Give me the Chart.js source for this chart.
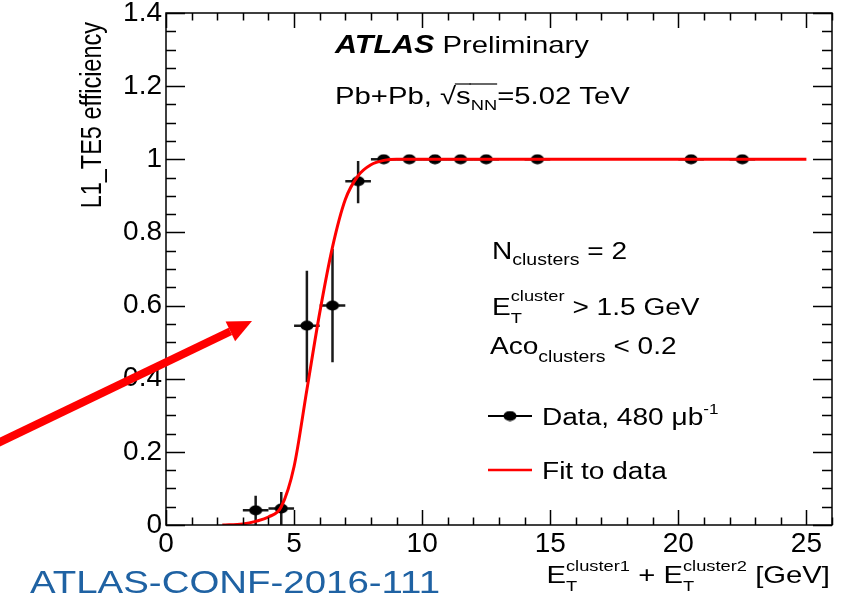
<!DOCTYPE html>
<html>
<head>
<meta charset="utf-8">
<script src="https://cdn.jsdelivr.net/npm/chart.js@4.4.1/dist/chart.umd.min.js"></script>
<style>
    html, body { margin: 0; padding: 0; background: #fff; }
    #effChart { display: block; }
</style>
</head>
<body>
<canvas id="effChart" width="848" height="599"></canvas>
<script>
// efficiency points
const binCentres   = [3.5, 4.5, 5.5, 6.5, 7.5, 8.5, 9.5, 10.5, 11.5, 12.5, 14.5, 20.5, 22.5];
const efficiency   = [0.04, 0.045, 0.545, 0.60, 0.94, 1, 1, 1, 1, 1, 1, 1, 1];
const binHalfWidth = [0.5, 0.5, 0.5, 0.5, 0.5, 0.5, 0.5, 0.5, 0.5, 0.5, 0.5, 0.5, 0.5];
const errUp        = [0.04, 0.045, 0.15, 0.155, 0.055, 0, 0, 0, 0, 0, 0, 0, 0];
const errDown      = [0.04, 0.045, 0.155, 0.155, 0.06, 0, 0, 0, 0, 0, 0, 0, 0];

// fit curve, sampled by eye
const fitX = [2.2, 3.0, 3.5, 4.0, 4.5, 5.0, 5.5, 6.0, 6.5, 7.0, 7.5, 8.0, 8.5, 9.0, 10.0, 25.0];
const fitY = [0, 0.003, 0.01, 0.022, 0.05, 0.16, 0.37, 0.58, 0.76, 0.89, 0.955, 0.985, 0.997, 1, 1, 1];

const xTicks = [0, 5, 10, 15, 20, 25];
const yTicks = [0, 0.2, 0.4, 0.6, 0.8, 1, 1.2, 1.4];
const xMinorStep = 1;
const yMinorStep = 0.05;

const FONT = '"Liberation Sans", Arial, Helvetica, sans-serif';
// the source picture is a bit wider than tall, text gets the same stretch
const STRETCH = 1.22;

function fnt(size, style) {
    return (style || '') + ' ' + size + 'px ' + FONT;
}

// filled ellipse used as marker
function dotImage() {
    const c = document.createElement('canvas');
    c.width = 14; c.height = 11;
    const g = c.getContext('2d');
    g.fillStyle = '#000';
    g.beginPath();
    g.ellipse(7, 5.5, 6.5, 5, 0, 0, Math.PI * 2);
    g.fill();
    return c;
}
const dot = dotImage();

// draws a run of text pieces; a piece is {t} or {sup, sub} stacked at the same x
function richText(ctx, x, y, parts, align, sx) {
    sx = sx || STRETCH;
    const widthOf = p => {
        if (p.sup !== undefined) {
            ctx.font = fnt(p.size);
            return Math.max(ctx.measureText(p.sup).width, ctx.measureText(p.sub).width);
        }
        ctx.font = fnt(p.size, p.style);
        return ctx.measureText(p.t).width;
    };
    const total = parts.reduce((s, p) => s + widthOf(p), 0);
    ctx.save();
    ctx.translate(x, y);
    ctx.scale(sx, 1);
    let cx = align === 'right' ? -total : 0;
    ctx.textAlign = 'left';
    ctx.textBaseline = 'alphabetic';
    parts.forEach(p => {
        const w = widthOf(p);
        if (p.sup !== undefined) {
            ctx.font = fnt(p.size);
            ctx.fillText(p.sup, cx, p.supDy);
            ctx.fillText(p.sub, cx, p.subDy);
        } else {
            ctx.font = fnt(p.size, p.style);
            ctx.fillText(p.t, cx, p.dy || 0);
        }
        if (p.over !== undefined) {
            ctx.lineWidth = 1.2;
            ctx.strokeStyle = ctx.fillStyle;
            ctx.beginPath();
            ctx.moveTo(cx - 1, p.over);
            ctx.lineTo(cx + w, p.over);
            ctx.stroke();
        }
        cx += w;
    });
    ctx.restore();
}

const errorBars = {
    id: 'errorBars',
    beforeDatasetsDraw(chart) {
        const { ctx, chartArea, scales: { x, y } } = chart;
        ctx.save();
        ctx.beginPath();
        ctx.rect(chartArea.left, chartArea.top, chartArea.width, chartArea.height);
        ctx.clip();
        ctx.strokeStyle = '#1a1a1a';
        ctx.lineWidth = 2.5;
        binCentres.forEach((c, i) => {
            const px = x.getPixelForValue(c);
            const py = y.getPixelForValue(efficiency[i]);
            ctx.beginPath();
            ctx.moveTo(x.getPixelForValue(c - binHalfWidth[i]), py);
            ctx.lineTo(x.getPixelForValue(c + binHalfWidth[i]), py);
            if (errUp[i] || errDown[i]) {
                ctx.moveTo(px, y.getPixelForValue(efficiency[i] + errUp[i]));
                ctx.lineTo(px, y.getPixelForValue(efficiency[i] - errDown[i]));
            }
            ctx.stroke();
        });
        ctx.restore();
    }
};

// ROOT style frame with inward ticks on all four sides
const frameTicks = {
    id: 'frameTicks',
    afterDatasetsDraw(chart) {
        const { ctx, chartArea: a, scales: { x, y } } = chart;
        ctx.save();
        ctx.strokeStyle = '#000';
        ctx.lineWidth = 1.5;
        ctx.strokeRect(a.left, a.top, a.width, a.height);
        ctx.beginPath();
        for (let v = x.min; v <= x.max + 1e-9; v += xMinorStep) {
            const px = Math.round(x.getPixelForValue(v)) + 0.5;
            const len = xTicks.some(t => Math.abs(t - v) < 1e-6) ? 15 : 7.5;
            ctx.moveTo(px, a.bottom); ctx.lineTo(px, a.bottom - len);
            ctx.moveTo(px, a.top); ctx.lineTo(px, a.top + len);
        }
        for (let v = y.min; v <= y.max + 1e-9; v += yMinorStep) {
            const py = Math.round(y.getPixelForValue(v)) + 0.5;
            const len = yTicks.some(t => Math.abs(t - v) < 1e-6) ? 19 : 10;
            ctx.moveTo(a.left, py); ctx.lineTo(a.left + len, py);
            ctx.moveTo(a.right, py); ctx.lineTo(a.right - len, py);
        }
        ctx.stroke();
        ctx.restore();
    }
};

const labels = {
    id: 'labels',
    afterDraw(chart) {
        const ctx = chart.ctx;
        ctx.save();
        ctx.fillStyle = '#000';

        richText(ctx, 335, 53, [
            { t: 'ATLAS', size: 25, style: 'italic bold' },
            { t: ' Preliminary', size: 24 }
        ]);

        richText(ctx, 335, 104, [
            { t: 'Pb+Pb, ', size: 24 },
            { t: '\u221A', size: 24 },
            { t: 's', size: 24, over: -20 },
            { t: 'NN', size: 15, dy: 6, over: -20 },
            { t: '=5.02 TeV', size: 24 }
        ]);

        richText(ctx, 492, 259, [
            { t: 'N', size: 23 },
            { t: 'clusters', size: 16, dy: 6 },
            { t: ' = 2', size: 23 }
        ]);
        richText(ctx, 492, 315, [
            { t: 'E', size: 23 },
            { sup: 'cluster', sub: 'T', size: 15, supDy: -14, subDy: 8 },
            { t: ' > 1.5 GeV', size: 23 }
        ]);
        richText(ctx, 490, 354, [
            { t: 'Aco', size: 23 },
            { t: 'clusters', size: 16, dy: 8 },
            { t: ' < 0.2', size: 23 }
        ]);

        // legend
        ctx.strokeStyle = '#000';
        ctx.lineWidth = 2;
        ctx.beginPath();
        ctx.moveTo(488, 416); ctx.lineTo(532, 416);
        ctx.stroke();
        ctx.drawImage(dot, 510 - 7, 416 - 5.5);
        richText(ctx, 542, 425, [
            { t: 'Data, 480 \u03BCb', size: 23 },
            { t: '-1', size: 14, dy: -11 }
        ]);
        ctx.strokeStyle = '#ff0000';
        ctx.lineWidth = 2.5;
        ctx.beginPath();
        ctx.moveTo(488, 470); ctx.lineTo(532, 470);
        ctx.stroke();
        richText(ctx, 542, 479, [{ t: 'Fit to data', size: 23 }]);

        // axis titles
        richText(ctx, 830, 583, [
            { t: 'E', size: 24 },
            { sup: 'cluster1', sub: 'T', size: 15, supDy: -12, subDy: 8 },
            { t: ' + E', size: 24 },
            { sup: 'cluster2', sub: 'T', size: 15, supDy: -12, subDy: 8 },
            { t: ' [GeV]', size: 24 }
        ], 'right');

        ctx.save();
        ctx.translate(101, 22);
        ctx.rotate(-Math.PI / 2);
        ctx.scale(1, STRETCH);
        richText(ctx, 0, 0, [{ t: 'L1_TE5 efficiency', size: 23.5 }], 'right', 1);
        ctx.restore();

        // conference note tag
        ctx.fillStyle = '#1f62a3';
        ctx.font = fnt(32);
        const tag = 'ATLAS-CONF-2016-111';
        const tw = ctx.measureText(tag).width;
        ctx.save();
        ctx.translate(30, 593);
        ctx.scale(410 / tw, 1);
        ctx.fillText(tag, 0, 0);
        ctx.restore();

        // red pointer arrow
        const x0 = 0, y0 = 442, x1 = 252, y1 = 321;
        const ang = Math.atan2(y1 - y0, x1 - x0);
        const headLen = 24, headHalf = 11;
        const bx = x1 - headLen * Math.cos(ang), by = y1 - headLen * Math.sin(ang);
        ctx.strokeStyle = '#ff0000';
        ctx.fillStyle = '#ff0000';
        ctx.lineWidth = 8;
        ctx.beginPath();
        ctx.moveTo(x0 - 10 * Math.cos(ang), y0 - 10 * Math.sin(ang));
        ctx.lineTo(bx, by);
        ctx.stroke();
        ctx.beginPath();
        ctx.moveTo(x1, y1);
        ctx.lineTo(bx + headHalf * Math.sin(ang), by - headHalf * Math.cos(ang));
        ctx.lineTo(bx - headHalf * Math.sin(ang), by + headHalf * Math.cos(ang));
        ctx.closePath();
        ctx.fill();

        ctx.restore();
    }
};

new Chart(document.getElementById('effChart'), {
    type: 'scatter',
    data: {
        datasets: [
            {
                label: 'Fit to data',
                data: fitX.map((v, i) => ({ x: v, y: fitY[i] })),
                showLine: true,
                borderColor: '#ff0000',
                borderWidth: 3,
                pointRadius: 0,
                cubicInterpolationMode: 'monotone',
                order: 0
            },
            {
                label: 'Data, 480 \u03BCb-1',
                data: binCentres.map((v, i) => ({ x: v, y: efficiency[i] })),
                pointStyle: dot,
                pointRadius: 6,
                order: 1
            }
        ]
    },
    options: {
        responsive: false,
        animation: false,
        layout: { padding: { top: 13, right: 16, left: 0, bottom: 0 } },
        plugins: { legend: { display: false }, tooltip: { enabled: false } },
        scales: {
            x: {
                type: 'linear',
                min: 0,
                max: 26,
                grid: { display: false, drawTicks: false, tickLength: 0 },
                border: { display: false },
                afterBuildTicks: s => { s.ticks = xTicks.map(v => ({ value: v })); },
                afterFit: s => { s.height = 74; s.paddingLeft = 0; s.paddingRight = 0; },
                ticks: { font: { family: FONT, size: 28 }, color: '#000', padding: 2, maxRotation: 0 }
            },
            y: {
                type: 'linear',
                min: 0,
                max: 1.4,
                grid: { display: false, drawTicks: false, tickLength: 0 },
                border: { display: false },
                afterBuildTicks: s => { s.ticks = yTicks.map(v => ({ value: v })); },
                afterFit: s => { s.width = 166; s.paddingTop = 0; s.paddingBottom = 0; },
                ticks: {
                    font: { family: FONT, size: 28 },
                    color: '#000',
                    padding: 4,
                    callback: v => String(+v.toFixed(1))
                }
            }
        }
    },
    plugins: [errorBars, frameTicks, labels]
});
</script>
</body>
</html>
